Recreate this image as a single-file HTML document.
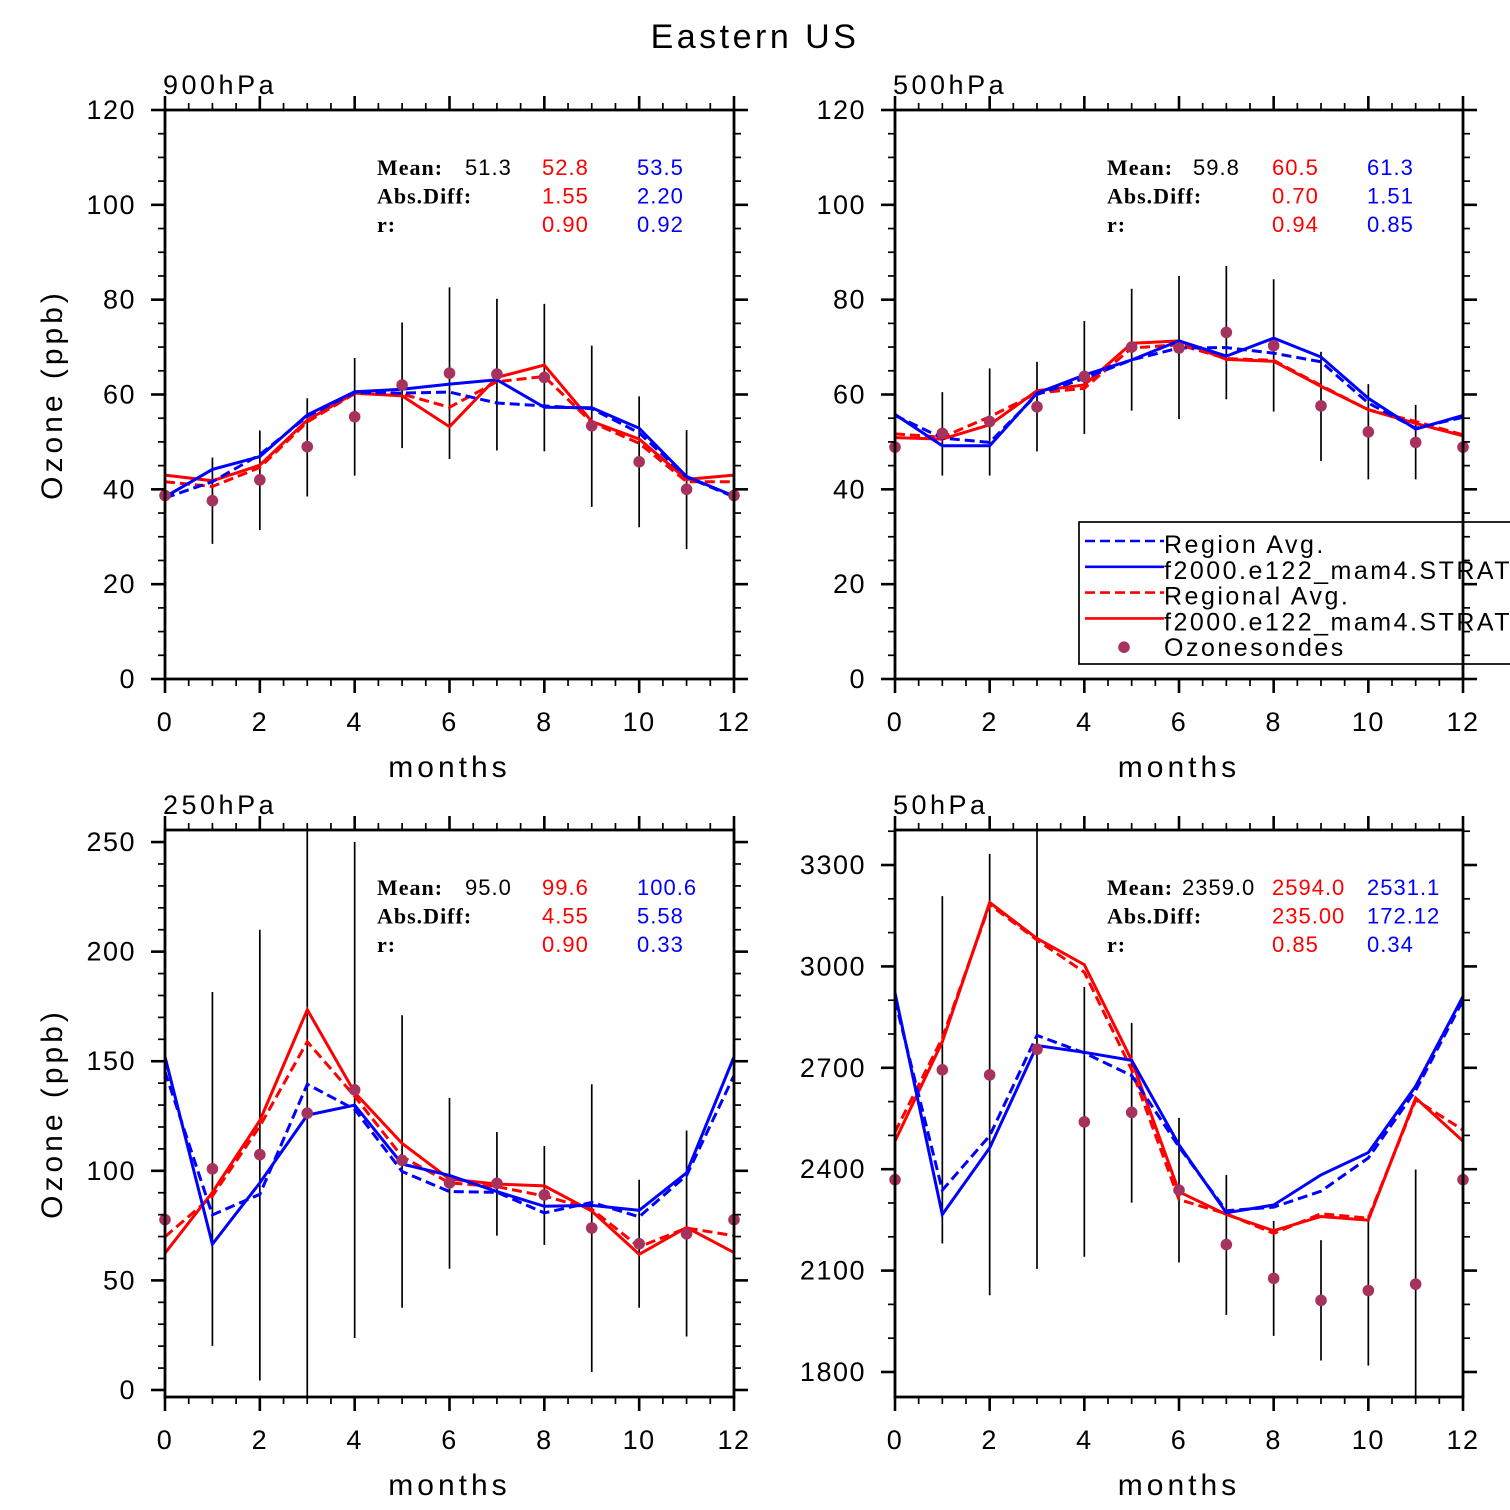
<!DOCTYPE html>
<html><head><meta charset="utf-8"><style>
html,body{margin:0;padding:0;background:#fff;}
svg{display:block;}
text{font-family:"Liberation Sans",sans-serif;}
.st{font-family:"Liberation Serif",serif;font-size:22px;font-weight:bold;letter-spacing:1px;}
.sv{font-family:"Liberation Sans",sans-serif;font-size:22px;letter-spacing:1px;}
</style></head><body>
<svg id="chart" width="1510" height="1510" viewBox="0 0 1510 1510" xmlns="http://www.w3.org/2000/svg">
<text x="755" y="48" text-anchor="middle" font-size="34" letter-spacing="3.5">Eastern US</text>
</svg>
<script>
// ---- 900hPa ----
const months = [0,1,2,3,4,5,6,7,8,9,10,11,12];
const p900_obs = [38.7,37.6,42,49,55.3,62,64.5,64.3,63.6,53.4,45.8,40,38.7];
const p900_errHi = [null,46.7,52.4,59.2,67.7,75.2,82.6,80.2,79.1,70.3,59.6,52.5,null];
const p900_errLo = [null,28.5,31.4,38.5,42.9,48.7,46.4,48.2,48,36.3,32,27.4,null];
const p900_blueSolid = [38.4,44.2,46.9,55.7,60.6,61.1,62.2,63.1,57.3,57.2,52.9,42.7,38.6];
const p900_blueDash = [38.2,41.6,47.3,55.4,60.4,60.3,60.5,58.2,57.6,57,51.9,42.6,38.4];
const p900_redSolid = [43,41.8,45.1,54.6,60.3,59.7,53.2,63.6,66.2,54.3,50.6,42.1,43];
const p900_redDash = [41.6,40.6,44.6,54.2,60.2,60.1,57.3,62.7,63.8,54.1,49.7,41.6,41.6];
const p900_yTicks = [0,20,40,60,80,100,120];
const p900_stats = [["51.3","52.8","53.5"],["","1.55","2.20"],["","0.90","0.92"]];
// ---- 500hPa ----
const p500_obs = [48.9,51.8,54.3,57.4,63.8,70,69.8,73.1,70.3,57.6,52.1,49.9,48.9];
const p500_errHi = [null,60.5,65.5,66.9,75.5,82.3,85,87.1,84.3,69,62.2,57.8,null];
const p500_errLo = [null,42.9,42.9,48,51.7,56.6,54.8,59,56.4,46,42.1,42.1,null];
const p500_blueSolid = [55.8,49.2,49.2,60.3,64.1,67.3,71.3,68.1,71.9,67.9,59.2,52.7,55.6];
const p500_blueDash = [55.6,50.8,49.9,60,63.4,67.3,69.8,69.9,68.7,66.9,58.2,52.9,55.2];
const p500_redSolid = [50.9,50.6,53.6,60.8,62,70.8,71.3,67.4,67,61.7,56.8,53.9,51.3];
const p500_redDash = [51.7,51,55.3,60.3,61.3,69.8,70.5,67.6,67.2,61.9,56.8,54.3,51.5];
const p500_yTicks = [0,20,40,60,80,100,120];
const p500_stats = [["59.8","60.5","61.3"],["","0.70","1.51"],["","0.94","0.85"]];
// ---- 250hPa ----
const p250_obs = [77.7,100.9,107.4,126.3,136.9,104.8,94.5,94.3,89,73.9,66.7,71.3,77.7];
const p250_errHi = [null,181.6,210,275,250,171,133.2,117.7,111.3,139.5,95.9,118.4,null];
const p250_errLo = [null,20.1,4.3,-10,23.7,37.5,55.3,70.4,66.2,8.2,37.5,24.4,null];
const p250_blueSolid = [152,66.5,94.5,125.4,130,103.1,97.9,90.5,83.8,84.2,82,99.1,152];
const p250_blueDash = [145.2,79.9,89.3,139.5,128,99.7,90.5,90.2,80.8,85.6,79,97.9,143.5];
const p250_redSolid = [62.4,90.2,122.9,173.5,135.7,112.5,96.2,94,93.1,81.6,61.9,74.2,62.7];
const p250_redDash = [69.9,88.5,120.3,158.9,134,106.5,94.5,92.8,88.5,82.5,65.3,73.9,70.4];
const p250_yTicks = [0,50,100,150,200,250];
const p250_stats = [["95.0","99.6","100.6"],["","4.55","5.58"],["","0.90","0.33"]];
// ---- 50hPa ----
const p50_obs = [2369,2694,2679,2755,2540,2568,2338,2177,2077,2012,2041,2060,2369];
const p50_errHi = [null,3208,3333,3480,2939,2833,2552,2383,2247,2190,2264,2399,null];
const p50_errLo = [null,2180,2027,2105,2141,2301,2124,1969,1907,1834,1819,1680,null];
const p50_blueSolid = [2922,2266,2463,2766,2746,2722,2472,2271,2294,2383,2449,2646,2911];
const p50_blueDash = [2900,2338,2499,2796,2744,2677,2466,2277,2288,2335,2433,2633,2900];
const p50_redSolid = [2483,2777,3189,3083,3005,2722,2333,2266,2218,2260,2249,2611,2483];
const p50_redDash = [2510,2788,3183,3078,2983,2694,2310,2268,2210,2268,2255,2605,2516];
const p50_yTicks = [1800,2100,2400,2700,3000,3300];
const p50_stats = [["2359.0","2594.0","2531.1"],["","235.00","172.12"],["","0.85","0.34"]];
const xTicks = [0,2,4,6,8,10,12];

const NS = "http://www.w3.org/2000/svg";
const svg = document.getElementById('chart');
function mk(tag, attrs, parent){const e=document.createElementNS(NS,tag);for(const k in attrs)e.setAttribute(k,attrs[k]);(parent||svg).appendChild(e);return e;}

function panel(cfg){
  const g = mk('g',{});
  
  
  const L=cfg.x0,R=cfg.x1,T=cfg.y0,B=cfg.y1;
  const xs = m => L + (m/12)*(R-L);
  const ys = v => B - (v-cfg.vmin)/(cfg.vmax-cfg.vmin)*(B-T);
  const clip = mk('clipPath',{id:'clip-'+cfg.name},g);
  mk('rect',{x:L,y:T,width:R-L,height:B-T},clip);
  const plot = mk('g',{'clip-path':'url(#clip-'+cfg.name+')'},g);
  months.forEach((m,i)=>{
    if(cfg.hi[i]===null) return;
    const e = mk('line',{x1:xs(m),x2:xs(m),y1:ys(cfg.hi[i]),y2:ys(cfg.lo[i]),stroke:'#000','stroke-width':1.7},plot);
    
    
  });
  const series = [[cfg.redDash,'#ff0000',true,'red-dashed-line'],[cfg.redSolid,'#ff0000',false,'red-solid-line'],[cfg.blueDash,'#0000ff',true,'blue-dashed-line'],[cfg.blueSolid,'#0000ff',false,'blue-solid-line']];
  series.forEach(s=>{
    const pts = months.map((m,i)=>xs(m).toFixed(1)+','+ys(s[0][i]).toFixed(1)).join(' ');
    const p = mk('polyline',{points:pts,fill:'none',stroke:s[1],'stroke-width':3,'stroke-dasharray':s[2]?'10 5':'none','stroke-linejoin':'miter'},plot);
    
    
  });
  months.forEach((m,i)=>{
    const c = mk('circle',{cx:xs(m),cy:ys(cfg.obs[i]),r:5.8,fill:'#a8325e'},g);
    
    
  });
  if(cfg.legend) cfg.legend(g);
  const fr = mk('rect',{x:L,y:T,width:R-L,height:B-T,fill:'none',stroke:'#000','stroke-width':2.8},g);
  
  
  for(let m=0;m<=12;m+=0.5){
    const major = (m%2===0);
    const len = major?14:7;
    const x = xs(m);
    mk('line',{x1:x,x2:x,y1:B,y2:B+len,stroke:'#000','stroke-width':major?2.6:1.7},g);
    mk('line',{x1:x,x2:x,y1:T,y2:T-len,stroke:'#000','stroke-width':major?2.6:1.7},g);
  }
  xTicks.forEach(m=>{
    const t = mk('text',{x:xs(m),y:B+52,'text-anchor':'middle','font-size':27,'letter-spacing':1.5},g);
    t.textContent = m;
    
    
  });
  const step = cfg.yTicks[1]-cfg.yTicks[0];
  const mstep = step/cfg.minorN;
  for(let v=Math.ceil(cfg.vmin/mstep)*mstep; v<=cfg.vmax+1e-6; v+=mstep){
    const major = Math.abs(((v-cfg.yTicks[0])/step) - Math.round((v-cfg.yTicks[0])/step))<1e-6;
    const len = major?14:7;
    const y = ys(v);
    mk('line',{x1:L,x2:L-len,y1:y,y2:y,stroke:'#000','stroke-width':major?2.6:1.7},g);
    mk('line',{x1:R,x2:R+len,y1:y,y2:y,stroke:'#000','stroke-width':major?2.6:1.7},g);
  }
  cfg.yTicks.forEach(v=>{
    const t = mk('text',{x:L-29,y:ys(v)+9,'text-anchor':'end','font-size':27,'letter-spacing':1.5},g);
    t.textContent = v;
    
    
  });
  const xt = mk('text',{x:(L+R)/2,y:B+98,'text-anchor':'middle','font-size':30,'letter-spacing':4},g);
  xt.textContent='months';
  
  
  if(cfg.ylabel){
    const yt = mk('text',{x:0,y:0,'text-anchor':'middle','font-size':30,'letter-spacing':4,transform:'translate(62,'+((T+B)/2)+') rotate(-90)'},g);
    yt.textContent='Ozone (ppb)';
    
    
  }
  const pt = mk('text',{x:L-2,y:T-16,'font-size':27,'letter-spacing':3.5},g);
  pt.textContent = cfg.title;
  
  
  const labels=['Mean:','Abs.Diff:','r:'];
  const cols = cfg.statX;
  cfg.stats.forEach((row,ri)=>{
    const y = T+65+ri*28.5;
    const l = mk('text',{x:L+212,y:y,class:'st'},g); l.textContent=labels[ri];
    
    
    const colors=['#000','#ff0000','#0000ff'];
    row.forEach((v,ci)=>{ if(!v) return;
      const t = mk('text',{x:cols[ci],y:y,class:'sv',fill:colors[ci]},g); t.textContent=v;
      
      
    });
  });
}

function legend(g){
  const lg = mk('g',{},g);
  
  
  mk('rect',{x:1079,y:522,width:440,height:142,fill:'#fff',stroke:'#000','stroke-width':1.7},lg);
  const items=[['#0000ff',true,'Region Avg.'],['#0000ff',false,'f2000.e122_mam4.STRAT'],['#ff0000',true,'Regional Avg.'],['#ff0000',false,'f2000.e122_mam4.STRAT'],[null,false,'Ozonesondes']];
  items.forEach((it,i)=>{
    const y = 541+i*25.8;
    const e = mk('g',{},lg);
    
    
    if(it[0]) mk('line',{x1:1085,x2:1164,y1:y,y2:y,stroke:it[0],'stroke-width':2.6,'stroke-dasharray':it[1]?'10 5':'none'},e);
    else mk('circle',{cx:1124,cy:y+3,r:5.8,fill:'#a8325e'},e);
    const t = mk('text',{x:1164,y:y+12,'font-size':25,'letter-spacing':2.5},e);
    t.textContent = it[2];
  });
}

panel({name:'panel-900hpa',title:'900hPa',x0:165,x1:734,y0:110,y1:679,vmin:0,vmax:120,minorN:4,yTicks:p900_yTicks,ylabel:true,
  obs:p900_obs,hi:p900_errHi,lo:p900_errLo,blueSolid:p900_blueSolid,blueDash:p900_blueDash,redSolid:p900_redSolid,redDash:p900_redDash,stats:p900_stats,statX:[465,542,637]});
panel({name:'panel-500hpa',title:'500hPa',x0:895,x1:1463,y0:110,y1:679,vmin:0,vmax:120,minorN:4,yTicks:p500_yTicks,ylabel:false,legend:legend,
  obs:p500_obs,hi:p500_errHi,lo:p500_errLo,blueSolid:p500_blueSolid,blueDash:p500_blueDash,redSolid:p500_redSolid,redDash:p500_redDash,stats:p500_stats,statX:[1193,1272,1367]});
panel({name:'panel-250hpa',title:'250hPa',x0:165,x1:734,y0:830,y1:1397,vmin:-3.2,vmax:255.5,minorN:5,yTicks:p250_yTicks,ylabel:true,
  obs:p250_obs,hi:p250_errHi,lo:p250_errLo,blueSolid:p250_blueSolid,blueDash:p250_blueDash,redSolid:p250_redSolid,redDash:p250_redDash,stats:p250_stats,statX:[465,542,637]});
panel({name:'panel-50hpa',title:'50hPa',x0:895,x1:1463,y0:830,y1:1397,vmin:1726,vmax:3403.6,minorN:3,yTicks:p50_yTicks,ylabel:false,
  obs:p50_obs,hi:p50_errHi,lo:p50_errLo,blueSolid:p50_blueSolid,blueDash:p50_blueDash,redSolid:p50_redSolid,redDash:p50_redDash,stats:p50_stats,statX:[1182,1272,1367]});
</script>
</body></html>
